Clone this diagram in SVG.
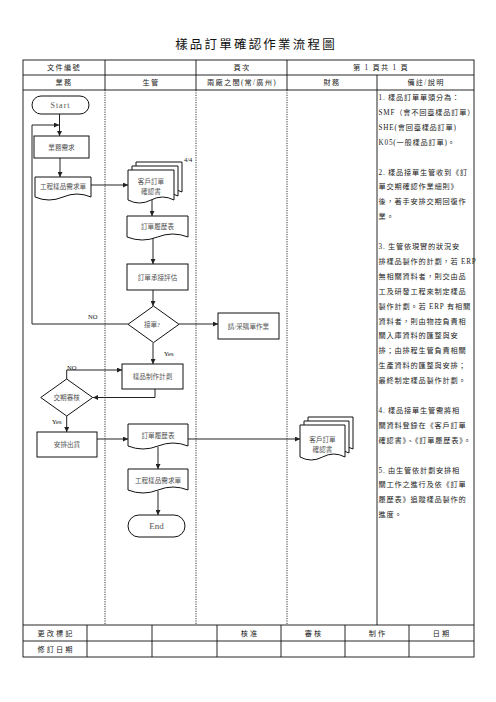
<svg xmlns="http://www.w3.org/2000/svg" width="496" height="702" viewBox="0 0 496 702">
<style>
.cjk{font-family:"Liberation Serif","Noto Sans CJK TC","Noto Sans CJK SC",serif;}
.title{font-size:12.5px;letter-spacing:2.2px;fill:#111;}
.hd{font-size:7.2px;letter-spacing:1.3px;fill:#222;}
.rm{font-size:7.2px;letter-spacing:0.8px;fill:#222;}
.lbl{font-size:6.6px;fill:#555;}
.ser{font-family:"Liberation Serif",serif;}
.tag{font-size:6.5px;fill:#111;}
.shape{fill:#fff;stroke:#111;stroke-width:1;}
.grid{stroke:#111;stroke-width:0.9;fill:none;}
.dot{stroke:#222;stroke-width:0.9;stroke-dasharray:1.2 1.2;fill:none;}
.con{stroke:#222;stroke-width:1;fill:none;}
</style>
<defs>
<marker id="ah" viewBox="0 0 10 10" refX="10" refY="5" markerWidth="5.5" markerHeight="5" markerUnits="userSpaceOnUse" orient="auto">
<path d="M0,0 L10,5 L0,10 z" fill="#222"/>
</marker>
</defs>
<rect width="496" height="702" fill="#fff"/>

<text class="cjk title" x="256" y="45" text-anchor="middle" dominant-baseline="central">樣品訂單確認作業流程圖</text>

<g id="table">
<rect class="grid" x="23" y="60" width="451" height="597" stroke-width="1.1"/>
<line class="grid" x1="23" y1="75" x2="474" y2="75"/>
<line class="grid" x1="23" y1="90" x2="474" y2="90"/>
<line class="grid" x1="105" y1="60" x2="105" y2="90"/>
<line class="grid" x1="196" y1="60" x2="196" y2="90"/>
<line class="grid" x1="287" y1="60" x2="287" y2="90"/>
<line class="grid" x1="377" y1="75" x2="377" y2="625"/>
<line class="dot" x1="105" y1="90" x2="105" y2="625"/>
<line class="dot" x1="196" y1="90" x2="196" y2="625"/>
<line class="dot" x1="287" y1="90" x2="287" y2="625"/>
<line class="grid" x1="23" y1="625" x2="474" y2="625"/>
<line class="grid" x1="23" y1="641" x2="474" y2="641"/>
<line class="grid" x1="87" y1="625" x2="87" y2="657"/>
<line class="grid" x1="152" y1="625" x2="152" y2="657"/>
<line class="grid" x1="217" y1="625" x2="217" y2="657"/>
<line class="grid" x1="281" y1="625" x2="281" y2="657"/>
<line class="grid" x1="345" y1="625" x2="345" y2="657"/>
<line class="grid" x1="409" y1="625" x2="409" y2="657"/>
<g class="cjk hd" text-anchor="middle" dominant-baseline="central">
<text x="64" y="67.5">文件編號</text>
<text x="242" y="67.5">頁次</text>
<text x="381" y="67.5">第 1 頁共 1 頁</text>
<text x="64" y="82.5">業務</text>
<text x="151" y="82.5">生管</text>
<text x="242" y="82.5">兩廠之間(常/廣州)</text>
<text x="332" y="82.5">財務</text>
<text x="426" y="82.5">備註/說明</text>
</g>
<g class="cjk hd" text-anchor="middle" dominant-baseline="central" style="letter-spacing:2px">
<text x="56" y="633.5">更改標記</text>
<text x="250" y="633.5">核准</text>
<text x="314" y="633.5">審核</text>
<text x="378" y="633.5">制作</text>
<text x="442" y="633.5">日期</text>
<text x="56" y="649.5">修訂日期</text>
</g>
</g>

<g id="remarks" class="cjk rm" dominant-baseline="central">
<text x="378.5" y="98">1. 樣品訂單單頭分為：</text>
<text x="378.5" y="112.9">SMF（會不回臺樣品訂單）</text>
<text x="378.5" y="127.8">SHE(會回臺樣品訂單)</text>
<text x="378.5" y="142.7">K05(一般樣品訂單)。</text>
<text x="378.5" y="172.5">2. 樣品接單生管收到《訂</text>
<text x="378.5" y="187.4">單交期確認作業細則》</text>
<text x="378.5" y="202.3">後，著手安排交期回復作</text>
<text x="378.5" y="217.2">業。</text>
<text x="378.5" y="247">3. 生管依現實的狀況安</text>
<text x="378.5" y="261.9">排樣品製作的計劃，若 ERP</text>
<text x="378.5" y="276.8">無相關資料者，則交由品</text>
<text x="378.5" y="291.7">工及研發工程來制定樣品</text>
<text x="378.5" y="306.6">製作計劃。若 ERP 有相關</text>
<text x="378.5" y="321.5">資料者，則由物控負責相</text>
<text x="378.5" y="336.4">關入庫資料的匯整與安</text>
<text x="378.5" y="351.3">排；由排程生管負責相關</text>
<text x="378.5" y="366.2">生產資料的匯整與安排；</text>
<text x="378.5" y="381.1">最終制定樣品製作計劃。</text>
<text x="378.5" y="410.9">4. 樣品接單生管需將相</text>
<text x="378.5" y="425.8">關資料登錄在《客戶訂單</text>
<text x="378.5" y="440.7">確認書》、《訂單履歷表》。</text>
<text x="378.5" y="470.5">5. 由生管依計劃安排相</text>
<text x="378.5" y="485.4">關工作之進行及依《訂單</text>
<text x="378.5" y="500.3">履歷表》追蹤樣品製作的</text>
<text x="378.5" y="515.2">進度。</text>
</g>

<g id="connectors">
<path class="con" d="M59.5 114 V136" marker-end="url(#ah)"/>
<path class="con" d="M60 158 V177" marker-end="url(#ah)"/>
<path class="con" d="M91 185 H128" marker-end="url(#ah)"/>
<path class="con" d="M152 200 V216" marker-end="url(#ah)"/>
<path class="con" d="M153 237 V264" marker-end="url(#ah)"/>
<path class="con" d="M153 290 V306" marker-end="url(#ah)"/>
<path class="con" d="M128 324 H32 V125 H59" marker-end="url(#ah)"/>
<path class="con" d="M179 324 H218" marker-end="url(#ah)"/>
<path class="con" d="M153 343 V364" marker-end="url(#ah)"/>
<path class="con" d="M155 389 V397.5 H93" marker-end="url(#ah)"/>
<path class="con" d="M66.7 379 V370 H122" marker-end="url(#ah)"/>
<path class="con" d="M66.7 416 V432" marker-end="url(#ah)"/>
<path class="con" d="M97 439 H128" marker-end="url(#ah)"/>
<path class="con" d="M188 439 H300" marker-end="url(#ah)"/>
<path class="con" d="M158 447 V469" marker-end="url(#ah)"/>
<path class="con" d="M158 491 V515" marker-end="url(#ah)"/>
<g class="ser tag" dominant-baseline="central">
<text x="88" y="316">NO</text>
<text x="164" y="353">Yes</text>
<text x="67" y="367">NO</text>
<text x="52" y="421">Yes</text>
</g>
</g>

<g id="start">
<rect class="shape" x="32" y="96" width="57" height="18" rx="9"/>
<text class="ser lbl" x="60.5" y="105" text-anchor="middle" dominant-baseline="central" style="font-size:8px;letter-spacing:1px">Start</text>
</g>
<g id="biz-request">
<rect class="shape" x="34" y="136" width="55" height="22"/>
<text class="cjk lbl" x="61.5" y="147" text-anchor="middle" dominant-baseline="central">業務需求</text>
</g>
<g id="eng-form-1">
<path class="shape" d="M35 177 H91 V197 Q77 191 63 197 Q49 203 35 197 Z"/>
<text class="cjk lbl" x="63" y="186.5" text-anchor="middle" dominant-baseline="central">工程樣品需求單</text>
</g>
<g id="confirm-doc-1">
<path class="shape" d="M136 162 H182 V192 Q170.5 186 159 192 Q147.5 198 136 192 Z"/>
<path class="shape" d="M132 166 H178 V196 Q166.5 190 155 196 Q143.5 202 132 196 Z"/>
<path class="shape" d="M128 170 H174 V200 Q162.5 194 151 200 Q139.5 206 128 200 Z"/>
<text class="cjk lbl" x="151" y="181" text-anchor="middle" dominant-baseline="central">客戶訂單</text>
<text class="cjk lbl" x="151" y="191" text-anchor="middle" dominant-baseline="central">確認書</text>
<text class="ser tag" x="184" y="159" dominant-baseline="central">4/4</text>
</g>
<g id="history-1">
<path class="shape" d="M127 216 H188 V237 Q172.75 231 157.5 237 Q142.25 243 127 237 Z"/>
<text class="cjk lbl" x="157.5" y="226.5" text-anchor="middle" dominant-baseline="central">訂單履歷表</text>
</g>
<g id="evaluate">
<rect class="shape" x="127" y="264" width="61" height="26"/>
<text class="cjk lbl" x="157.5" y="277" text-anchor="middle" dominant-baseline="central">訂單承接評估</text>
</g>
<g id="accept">
<path class="shape" d="M153.5 306 L179 324.3 L153.5 342.6 L128 324.3 Z"/>
<text class="cjk lbl" x="152" y="324.3" text-anchor="middle" dominant-baseline="central">接單?</text>
</g>
<g id="purchase">
<rect class="shape" x="218" y="313" width="61" height="26"/>
<text class="cjk lbl" x="248.5" y="326" text-anchor="middle" dominant-baseline="central">請/采購單作業</text>
</g>
<g id="plan">
<rect class="shape" x="122" y="364" width="61" height="25"/>
<text class="cjk lbl" x="152.5" y="376.5" text-anchor="middle" dominant-baseline="central">樣品制作計劃</text>
</g>
<g id="due-review">
<path class="shape" d="M66.7 379 L92.7 397.5 L66.7 416 L40.7 397.5 Z"/>
<text class="cjk lbl" x="66.7" y="397.5" text-anchor="middle" dominant-baseline="central">交期審核</text>
</g>
<g id="ship">
<rect class="shape" x="37" y="432" width="60" height="25"/>
<text class="cjk lbl" x="67" y="444.5" text-anchor="middle" dominant-baseline="central">安排出貨</text>
</g>
<g id="history-2">
<path class="shape" d="M128 424 H188 V446 Q173 440 158 446 Q143 452 128 446 Z"/>
<text class="cjk lbl" x="158" y="435" text-anchor="middle" dominant-baseline="central">訂單履歷表</text>
</g>
<g id="confirm-doc-2">
<path class="shape" d="M308 417 H353 V449 Q341.75 443 330.5 449 Q319.25 455 308 449 Z"/>
<path class="shape" d="M304 421 H349 V453 Q337.75 447 326.5 453 Q315.25 459 304 453 Z"/>
<path class="shape" d="M300 425 H345 V457 Q333.75 451 322.5 457 Q311.25 463 300 457 Z"/>
<text class="cjk lbl" x="322.5" y="439.5" text-anchor="middle" dominant-baseline="central">客戶訂單</text>
<text class="cjk lbl" x="322.5" y="449.5" text-anchor="middle" dominant-baseline="central">確認書</text>
</g>
<g id="eng-form-2">
<path class="shape" d="M128 469 H188 V490 Q173 484 158 490 Q143 496 128 490 Z"/>
<text class="cjk lbl" x="158" y="480" text-anchor="middle" dominant-baseline="central">工程樣品需求單</text>
</g>
<g id="end">
<rect class="shape" x="128" y="515" width="57" height="22" rx="11"/>
<text class="ser lbl" x="156.5" y="526" text-anchor="middle" dominant-baseline="central" style="font-size:9px">End</text>
</g>
</svg>
